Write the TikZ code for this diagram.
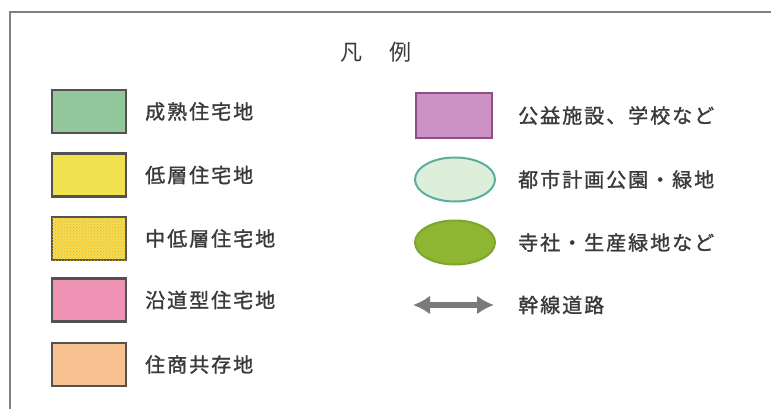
\documentclass[tikz,border=0pt]{standalone}
\usepackage{fontspec}
\setmainfont{Noto Sans CJK JP}[LetterSpace=10]
\newfontfamily\legfont{Noto Sans CJK JP}[LetterSpace=10, FakeBold=1.3]
\usetikzlibrary{patterns,arrows.meta,shapes.geometric}
\definecolor{frame}{HTML}{808080}
\definecolor{txt}{HTML}{3A3A3A}
\definecolor{cGreen}{HTML}{93C89C}
\definecolor{cYellow}{HTML}{F2E14E}
\definecolor{cYellow2}{HTML}{EFDC5A}
\definecolor{cPink}{HTML}{EE93B4}
\definecolor{cOrange}{HTML}{F7C290}
\definecolor{cPurple}{HTML}{CC92C6}
\definecolor{cPurpleB}{HTML}{8E4E86}
\definecolor{cPark}{HTML}{DDEFDA}
\definecolor{cParkB}{HTML}{5BAE9C}
\definecolor{cShrine}{HTML}{8EB633}
\definecolor{cShrineB}{HTML}{7FA52C}
\definecolor{road}{HTML}{7A7A7A}
\tikzset{
  legbox/.style={draw=black!68, line width=2.2pt, minimum width=74pt, minimum height=43pt, inner sep=0pt},
  legoval/.style={ellipse, line width=2pt, minimum width=80pt, minimum height=44pt, inner sep=0pt},
  legtext/.style={anchor=west, inner sep=0pt, text=txt, font=\legfont\fontsize{20pt}{22pt}\selectfont},
}
\begin{document}
\begin{tikzpicture}[x=1pt,y=-1pt]
\useasboundingbox (0,0) rectangle (771,409);
\fill[white] (0,0) rectangle (771,409);
% frame (top and left only)
\coordinate (ftr) at (771,12);
\coordinate (ftl) at (10,12);
\coordinate (fbl) at (10,409);
\draw[frame, line width=2pt] (ftr) -- (ftl) -- (fbl);
% title
\node[text=txt, font=\fontsize{22pt}{24pt}\selectfont, inner sep=0pt] (title) at (376,52) {凡\hspace{1.2em}例};
% left column
\node[legbox, fill=cGreen] (b1) at (89,111.5) {};
\node[legtext] (t1) at (145,111.5) {成熟住宅地};
\node[legbox, fill=cYellow] (b2) at (89,175) {};
\node[legtext] (t2) at (145,175) {低層住宅地};
\node[legbox, fill=cYellow2, postaction={pattern=crosshatch dots, pattern color=orange!60!yellow}] (b3) at (89,238.5) {};
\node[legtext] (t3) at (145,238.5) {中低層住宅地};
\node[legbox, fill=cPink] (b4) at (89,300) {};
\node[legtext] (t4) at (145,300) {沿道型住宅地};
\node[legbox, fill=cOrange] (b5) at (89,364.5) {};
\node[legtext] (t5) at (145,364.5) {住商共存地};
% right column
\node[legbox, fill=cPurple, draw=cPurpleB, minimum width=76pt, minimum height=45pt] (r1) at (454,115.5) {};
\node[legtext] (s1) at (518,115.5) {公益施設、学校など};
\node[legoval, fill=cPark, draw=cParkB] (r2) at (455,179.5) {};
\node[legtext] (s2) at (518,179.5) {都市計画公園・緑地};
\node[legoval, fill=cShrine, draw=cShrineB] (r3) at (455,242.5) {};
\node[legtext] (s3) at (518,242.5) {寺社・生産緑地など};
\coordinate (aL) at (413,305);
\coordinate (aR) at (494,305);
\draw[road, line width=6pt, {Latex[length=17pt,width=19pt]}-{Latex[length=17pt,width=19pt]}] (aL) -- (aR);
\node[legtext] (s4) at (518,305) {幹線道路};
\end{tikzpicture}
\end{document}
